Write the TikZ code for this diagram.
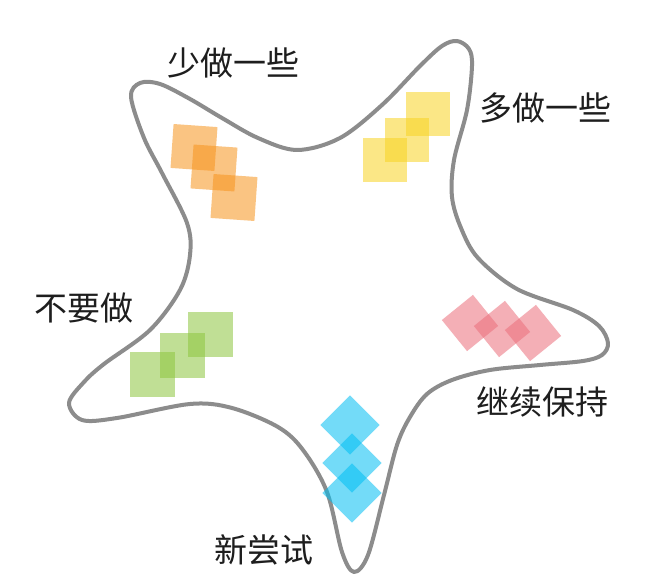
\documentclass[tikz,border=0pt]{standalone}
\usepackage{fontspec}
\newfontfamily\cjk{Noto Sans CJK SC}
\definecolor{outl}{HTML}{8C8C8C}
\definecolor{corange}{HTML}{F7941D}
\definecolor{cyellow}{HTML}{F9D423}
\definecolor{cgreen}{HTML}{8DC63F}
\definecolor{cpink}{HTML}{EB6E7B}
\definecolor{cblue}{HTML}{00BFF3}
\definecolor{txt}{HTML}{1E1E1E}
\begin{document}
\begin{tikzpicture}[x=1pt,y=-1pt,
  sq/.style={rectangle,inner sep=0pt,draw=none,fill opacity=0.55},
  lbl/.style={inner sep=0pt,text=txt,font=\cjk\fontsize{33}{36}\selectfont}]
\useasboundingbox (0,0) rectangle (665,588);
\fill[white] (0,0) rectangle (665,588);
% outline
\draw[outl,line width=4pt,line join=round]
  plot[smooth cycle,tension=0.55] coordinates {
  (131,97) (140,83) (160,84) (190,99) (222,118) (258,138) (297,150)
  (340,138) (382,105) (420,66) (442,46) (457,41) (469,49) (472,66)
  (467,110) (454,160) (452,197) (461,228) (478,258) (517,289) (573,310)
  (599,326) (608,343) (602,355) (583,361) (540,365) (490,370) (452,380)
  (427,394) (410,417) (397,445) (384,495) (368,555) (354,572) (342,552)
  (327,492) (303,450) (278,427) (232,408) (190,404) (117,418) (82,420)
  (69,403) (84,382) (104,364) (150,330) (180,290) (190,255) (187,223)
  (162,173) (144,138)};
% orange
\node[sq,fill=corange,minimum size=44pt,rotate=-4] (o1) at (194,147.5) {};
\node[sq,fill=corange,minimum size=44pt,rotate=-4] (o2) at (214,168) {};
\node[sq,fill=corange,minimum size=44pt,rotate=-4] (o3) at (234,197.5) {};
% yellow
\node[sq,fill=cyellow,minimum size=44pt] (y1) at (428,114) {};
\node[sq,fill=cyellow,minimum size=44pt] (y2) at (407,140) {};
\node[sq,fill=cyellow,minimum size=44pt] (y3) at (385,160) {};
% green
\node[sq,fill=cgreen,minimum size=45pt] (g1) at (210.5,334.5) {};
\node[sq,fill=cgreen,minimum size=45pt] (g2) at (182.5,355.5) {};
\node[sq,fill=cgreen,minimum size=45pt] (g3) at (152.5,374.5) {};
% pink
\node[sq,fill=cpink,minimum size=40pt,rotate=39] (p1) at (470,323) {};
\node[sq,fill=cpink,minimum size=40pt,rotate=39] (p2) at (502,329) {};
\node[sq,fill=cpink,minimum size=40pt,rotate=39] (p3) at (533,333) {};
% blue
\node[sq,fill=cblue,minimum size=42pt,rotate=45] (b1) at (350,425) {};
\node[sq,fill=cblue,minimum size=42pt,rotate=45] (b2) at (352,463) {};
\node[sq,fill=cblue,minimum size=42pt,rotate=45] (b3) at (352,493) {};
% labels
\node[lbl] (l1) at (233,63) {少做一些};
\node[lbl] (l2) at (545,108) {多做一些};
\node[lbl] (l3) at (84,308) {不要做};
\node[lbl] (l4) at (542,402) {继续保持};
\node[lbl] (l5) at (264,550) {新尝试};
\end{tikzpicture}
\end{document}
